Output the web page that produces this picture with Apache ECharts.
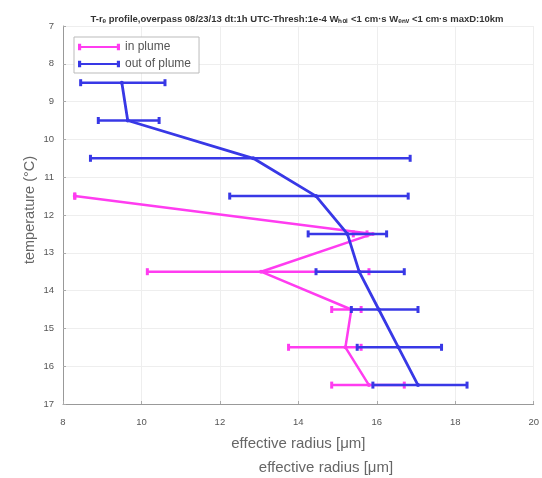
<!DOCTYPE html>
<html><head><meta charset="utf-8">
<script src="https://cdn.jsdelivr.net/npm/echarts@6/dist/echarts.min.js"></script>
<style>html,body{margin:0;padding:0;background:#fff}#c{width:542px;height:478px;filter:blur(0.5px)}</style>
</head><body><div id="c"></div>
<script>
// temperature levels (°C)
const temps = [8.5, 9.5, 10.5, 11.5, 12.5, 13.5, 14.5, 15.5, 16.5];
// out of plume: mean effective radius and error-bar bounds
const outMean = [9.5, 9.65, 12.85, 14.45, 15.25, 15.55, 16.05, 16.55, 17.05];
const outLow  = [8.45, 8.9, 8.7, 12.25, 14.25, 14.45, 15.35, 15.5, 15.9];
const outHigh = [10.6, 10.45, 16.85, 16.8, 16.25, 16.7, 17.05, 17.65, 18.3];
// in plume
const inTemps = [11.5, 12.5, 13.5, 14.5, 15.5, 16.5];
const inMean = [8.3, 15.9, 13.05, 15.35, 15.2, 15.8];
const inLow  = [8.3, 15.4, 10.15, 14.85, 13.75, 14.85];
const inHigh = [8.3, 15.75, 15.8, 15.6, 15.6, 16.7];
const xTicks = [8, 10, 12, 14, 16, 18, 20];
const yTicks = [7, 8, 9, 10, 11, 12, 13, 14, 15, 16, 17];

const BLUE = '#3838e6', PINK = '#ff3cf0';
const FONT = 'Liberation Sans';

function errData(t, lo, hi){ return t.map((v,i)=>[lo[i], hi[i], v]); }
function errSeries(name, data, color, z){
  return {
    type:'custom', name, data, z,
    itemStyle:{color},
    encode:{x:[0,1], y:2},
    renderItem(params, api){
      const a = api.coord([api.value(0), api.value(2)]);
      const b = api.coord([api.value(1), api.value(2)]);
      const h = 3.5;
      const st = {stroke:color, lineWidth:2.5};
      return {type:'group', children:[
        {type:'line', shape:{x1:a[0],y1:a[1],x2:b[0],y2:b[1]}, style:st},
        {type:'line', shape:{x1:a[0],y1:a[1]-h,x2:a[0],y2:a[1]+h}, style:{stroke:color, lineWidth:3}},
        {type:'line', shape:{x1:b[0],y1:b[1]-h,x2:b[0],y2:b[1]+h}, style:{stroke:color, lineWidth:3}}
      ]};
    }
  };
}
const ICON = 'path://M0,2 L3,2 L3,4 L37,4 L37,2 L40,2 L40,8 L37,8 L37,6 L3,6 L3,8 L0,8 Z';

const chart = echarts.init(document.getElementById('c'));
chart.setOption({
  animation:false,
  title:{text:'T-r\u2091 profile,overpass 08/23/13 dt:1h UTC-Thresh:1e-4 W\u2095\u2092\u2097 <1 cm\u00b7s W\u2091\u2099\u1d65 <1 cm\u00b7s maxD:10km',
    left:292, top:9, textAlign:'center',
    textStyle:{fontSize:9.5, fontWeight:'bold', color:'#333', fontFamily:FONT}},
  legend:{
    orient:'vertical', left:74, top:37, itemWidth:42, itemHeight:10, itemGap:5,
    backgroundColor:'#fff', borderColor:'#bbb', borderWidth:1, padding:[4,8,3,4],
    textStyle:{fontSize:12, color:'#555', fontFamily:FONT},
    data:[{name:'in plume', icon:ICON},{name:'out of plume', icon:ICON}]
  },
  grid:{left:63, right:0, top:26, bottom:74, containLabel:false},
  xAxis:{type:'value', min:8, max:20, interval:2,
    name:'effective radius [\u03bcm]', nameLocation:'middle', nameGap:32,
    nameTextStyle:{fontSize:15, color:'#666', fontFamily:FONT},
    axisLine:{show:true, lineStyle:{color:'#999'}},
    axisTick:{show:true, inside:true, length:3, lineStyle:{color:'#aaa'}},
    axisLabel:{fontSize:9.5, color:'#555', margin:13, fontFamily:FONT,
      formatter:v=>xTicks.includes(v)?String(v):''},
    splitLine:{show:true, lineStyle:{color:'#eee'}}
  },
  yAxis:{type:'value', min:7, max:17, interval:1, inverse:true,
    axisLine:{show:true, lineStyle:{color:'#999'}},
    axisTick:{show:true, inside:true, length:3, lineStyle:{color:'#aaa'}},
    axisLabel:{fontSize:9.5, color:'#555', margin:9, fontFamily:FONT,
      formatter:v=>yTicks.includes(v)?String(v):''},
    splitLine:{show:true, lineStyle:{color:'#eee'}}
  },
  graphic:[
    {type:'text', x:326, y:468, style:{text:'effective radius [\u03bcm]', fontSize:15, fill:'#666', fontFamily:FONT, align:'center', verticalAlign:'middle'}},
    {type:'text', x:30, y:210, rotation:Math.PI/2, style:{text:'temperature (\u00b0C)', fontSize:14.5, fill:'#666', fontFamily:FONT, align:'center', verticalAlign:'middle'}}
  ],
  series:[
    errSeries('in plume', errData(inTemps, inLow, inHigh), PINK, 2),
    {type:'line', name:'in plume', data:inTemps.map((t,i)=>[inMean[i], t]),
      color:PINK, lineStyle:{width:2.5, color:PINK}, symbol:'circle', symbolSize:4,
      itemStyle:{color:PINK}, z:3},
    errSeries('out of plume', errData(temps, outLow, outHigh), BLUE, 4),
    {type:'line', name:'out of plume', data:temps.map((t,i)=>[outMean[i], t]),
      color:BLUE, lineStyle:{width:2.8, color:BLUE}, symbol:'circle', symbolSize:4,
      itemStyle:{color:BLUE}, z:5}
  ]
});
</script></body></html>
